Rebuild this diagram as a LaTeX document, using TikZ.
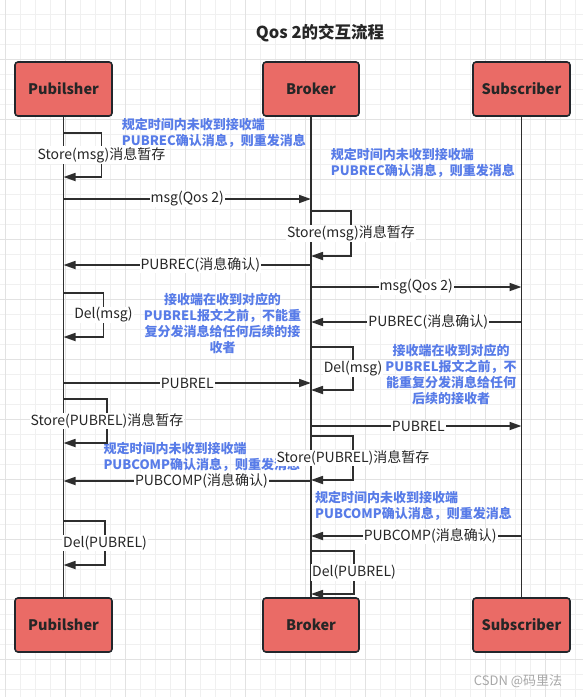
\documentclass[tikz,border=0pt]{standalone}
\usepackage{fontspec}
\setmainfont{Noto Sans CJK SC}
\usetikzlibrary{arrows.meta}
\definecolor{boxred}{HTML}{EA6B66}
\definecolor{boxline}{HTML}{22262B}
\definecolor{linedark}{HTML}{2E2E2E}
\definecolor{textdark}{HTML}{262626}
\definecolor{noteblue}{RGB}{88,124,232}
\definecolor{gridminor}{HTML}{F0F0F0}
\definecolor{gridmajor}{HTML}{E2E2E2}
\definecolor{wmgray}{HTML}{A8A8A8}
\tikzset{
  actor/.style={draw=boxline, fill=boxred, line width=1.6pt, rounded corners=3pt,
    minimum width=97pt, minimum height=54pt, inner sep=0pt,
    font=\bfseries\fontsize{14.5}{16}\selectfont, text=textdark},
  life/.style={draw=linedark, line width=1.7pt},
  msgarrow/.style={draw=linedark, line width=1.7pt, -{Triangle[length=12pt,width=8pt]}},
  lbl/.style={fill=white, inner sep=1pt, font=\fontsize{14}{16}\selectfont, text=textdark},
  note/.style={text=noteblue, font=\bfseries\fontsize{13}{16}\selectfont, inner sep=0pt},
  minorgrid/.style={draw=gridminor, line width=0.8pt},
  majorgrid/.style={draw=gridmajor, line width=0.9pt},
}
\begin{document}
\begin{tikzpicture}[x=1pt,y=-1pt]
\useasboundingbox (0,0) rectangle (583,697);
\fill[white] (0,0) rectangle (583,697);
% grid
\foreach \i in {0,...,38} {\draw[minorgrid] ({5.7+15*\i},0) -- ({5.7+15*\i},697);}
\foreach \j in {1,...,46} {\draw[minorgrid] (0,{-0.7+15*\j}) -- (583,{-0.7+15*\j});}
\foreach \i in {0,...,9} {\draw[majorgrid] ({5.7+60*\i},0) -- ({5.7+60*\i},697);}
\foreach \j in {1,...,11} {\draw[majorgrid] (0,{-0.7+60*\j}) -- (583,{-0.7+60*\j});}

% title
\node[font=\bfseries\fontsize{16.5}{18}\selectfont, text=textdark] (title) at (320,33) {Qos 2的交互流程};

% actors
\node[actor] (pubT) at (63.5,89) {Pubilsher};
\node[actor, minimum width=96pt] (broT) at (311,89) {Broker};
\node[actor] (subT) at (521.5,89) {Subscriber};
\node[actor] (pubB) at (63.5,625) {Pubilsher};
\node[actor, minimum width=96pt] (broB) at (311,625) {Broker};
\node[actor] (subB) at (521.5,625) {Subscriber};

% lifelines
\draw[life] (pubT.south) -- (pubB.north);
\draw[life] (broT.south) -- (broB.north);
\draw[life] (subT.south) -- (subB.north);

% notes
\node[note, anchor=north west, align=left] (n1) at (121.7,118) {规定时间内未收到接收端\\PUBREC确认消息，则重发消息};
\node[note, anchor=north west, align=left] (n2) at (330.7,148) {规定时间内未收到接收端\\PUBREC确认消息，则重发消息};
\node[note, anchor=north, align=center] (n3) at (222.5,293) {接收端在收到对应的\\PUBREL报文之前，不能重\\复分发消息给任何后续的接\\收者};
\node[note, anchor=north, align=center] (n4) at (451,344) {接收端在收到对应的\\PUBREL报文之前，不\\能重复分发消息给任何\\后续的接收者};
\node[note, anchor=north west, align=left] (n5) at (103.3,442) {规定时间内未收到接收端\\PUBCOMP确认消息，则重发消息};
\node[note, anchor=north west, align=left] (n6) at (315,491) {规定时间内未收到接收端\\PUBCOMP确认消息，则重发消息};

% lifeline anchor coordinates
\foreach \n/\y in {1/133,2/177,3/199,4/265,5/293,6/337,7/383,8/399,9/443,10/481,11/521,12/565} {
  \coordinate (p\n) at (pubT.south |- 0,\y);
}
\foreach \n/\y in {1/199,2/211,3/256,4/265,5/287,6/322,7/347,8/390,9/383,10/426,11/436,12/480,13/481,14/536,15/551,16/594} {
  \coordinate (b\n) at (broT.south |- 0,\y);
}
\foreach \n/\y in {1/287,2/322,3/426,4/536} {
  \coordinate (s\n) at (subT.south |- 0,\y);
}

% messages
\draw[msgarrow] (p3) -- node[lbl, pos=0.5] {msg(Qos 2)} (b1);
\draw[msgarrow] (b4) -- node[lbl, pos=0.447] {PUBREC(消息确认)} (p4);
\draw[msgarrow] (b5) -- node[lbl, pos=0.5] {msg(Qos 2)} (s1);
\draw[msgarrow] (s2) -- node[lbl, pos=0.443] {PUBREC(消息确认)} (b6);
\draw[msgarrow] (p7) -- node[lbl, pos=0.5] {PUBREL} (b9);
\draw[msgarrow] (b10) -- node[lbl, pos=0.51] {PUBREL} (s3);
\draw[msgarrow] (b13) -- node[lbl, pos=0.443] {PUBCOMP(消息确认)} (p10);
\draw[msgarrow] (s4) -- node[lbl, pos=0.434] {PUBCOMP(消息确认)} (b14);

% self loops
\draw[msgarrow] (p1) -- ++(38,0) -- node[lbl] {Store(msg)消息暂存} ++(0,44) -- (p2);
\draw[msgarrow] (b2) -- ++(40,0) -- node[lbl] {Store(msg)消息暂存} ++(0,45) -- (b3);
\draw[msgarrow] (p5) -- ++(40,0) -- node[lbl] {Del(msg)} ++(0,44) -- (p6);
\draw[msgarrow] (b7) -- ++(42,0) -- node[lbl] {Del(msg)} ++(0,43) -- (b8);
\draw[msgarrow] (p8) -- ++(43.5,0) -- node[lbl] {Store(PUBREL)消息暂存} ++(0,44) -- (p9);
\draw[msgarrow] (b11) -- ++(42,0) -- node[lbl] {Store(PUBREL)消息暂存} ++(0,44) -- (b12);
\draw[msgarrow] (p11) -- ++(41.5,0) -- node[lbl] {Del(PUBREL)} ++(0,44) -- (p12);
\draw[msgarrow] (b15) -- ++(43,0) -- node[lbl] {Del(PUBREL)} ++(0,43) -- (b16);

% watermark
\node[text=wmgray, font=\fontsize{13}{15}\selectfont, inner sep=0pt] (wm) at (518,681) {CSDN @码里法};
\end{tikzpicture}
\end{document}
